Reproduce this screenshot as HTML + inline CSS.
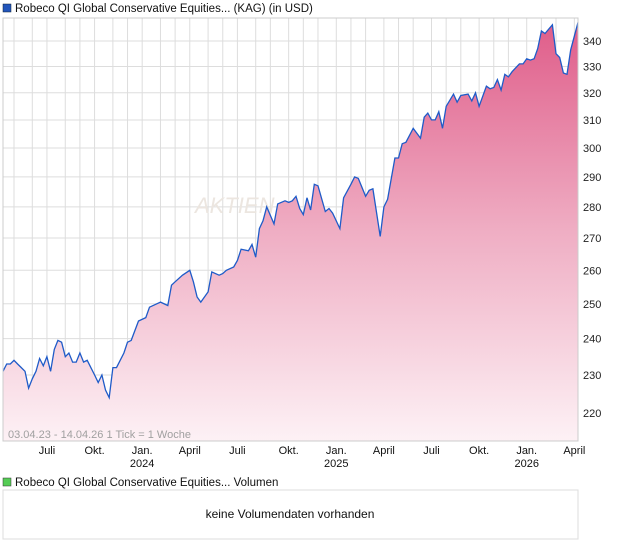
<!DOCTYPE html>
<html><head><meta charset="utf-8"><style>
body{margin:0;background:#fff;width:620px;height:546px;overflow:hidden;font-family:"Liberation Sans",sans-serif}
</style></head><body>
<svg id="c" width="620" height="546" xmlns="http://www.w3.org/2000/svg" style="font-family:'Liberation Sans',sans-serif">
<defs><linearGradient id="g" gradientUnits="userSpaceOnUse" x1="0" y1="18" x2="0" y2="441">
<stop offset="0" stop-color="#df5b88"/><stop offset="0.5" stop-color="#efadc3"/><stop offset="1" stop-color="#fdf1f5"/></linearGradient></defs>
<rect x="3" y="4" width="8" height="8" fill="#2255bb" stroke="#123" stroke-width="0.5"/>
<text x="15" y="12" font-size="11.5" fill="#111">Robeco QI Global Conservative Equities... (KAG) (in USD)</text>
<g id="grid"></g>
<text x="195" y="213" font-size="22" fill="#ece6e0" font-style="italic">AKTIEN</text>
<g id="series"></g>
<rect x="3" y="18" width="575" height="423" fill="none" stroke="#ccc"/>
<text x="8" y="438" font-size="11" fill="#a0a0a0">03.04.23 - 14.04.26   1 Tick = 1 Woche</text>
<g id="axes"></g>
<rect x="3" y="478" width="8" height="8" fill="#5c5" stroke="#333" stroke-width="0.5"/>
<text x="15" y="486" font-size="11.5" fill="#111">Robeco QI Global Conservative Equities... Volumen</text>
<rect x="3" y="490" width="575" height="49" fill="#fff" stroke="#ddd"/>
<text x="290" y="518" font-size="12" fill="#111" text-anchor="middle">keine Volumendaten vorhanden</text>
</svg>
<script>
const weeks=[0,1,2,3,4,5,6,7,8,9,10,11,12,13,14,15,16,17,18,19,20,21,22,23,25,26,27,28,29,30,31,33,34,35,37,39,40,42,43,45,46,47,49,51,52,53,54,56,57,59,60,61,63,64,65,67,68,69,70,71,72,74,75,77,78,79,80,81,82,83,84,85,86,88,89,90,92,93,95,96,97,99,100,101,103,104,105,107,108,109,110,112,114,115,116,117,118,119,120,121,123,124,125,127,128,129,130,132,133,134,135,136,137,138,139,141,142,143,144,145,146,147,148,150,151,152,153,154,155,157];
const prices=[231,233,233,234,233,232,231,226.5,229,231,234.5,232.5,235,231,237,239.5,239,235,236,233.5,233.5,236,233.5,234,230,228,230,226,224,232,232,236,239,239.5,245,246,249,250,250.5,249.5,255.5,256.5,258.5,260,256.5,252,250.5,253.5,259.5,258.5,259,260,261,263,266.5,266,268,264,273,275.5,280,274.5,281,282,281.5,282,283.5,279.5,277.5,283,279,287.5,287,278.5,279.5,278,273,283,287.5,290,289.5,283.5,285.5,286,270.5,280,282.5,296.5,296.5,301.5,302,307,303.5,311,312.5,310,310,313,307,315,319.5,316.5,319,319.5,317,320,315,322.5,321.5,322,325,321,327,326,328,331,331,333,332.5,333,337,344,343,346.5,335,333.5,327.5,327,336.5,347.5];
const yTicks=[220,230,240,250,260,270,280,290,300,310,320,330,340];
const xLabels=[["Juli",""],["Okt.",""],["Jan.","2024"],["April",""],["Juli",""],["Okt.",""],["Jan.","2025"],["April",""],["Juli",""],["Okt.",""],["Jan.","2026"],["April",""]];
const NS="http://www.w3.org/2000/svg";
const start=new Date(2023,3,10).getTime(),WEEK=7*864e5;
const L=3,R=578,T=18,B=441;
const xW=w=>L+w*(R-L)/157;
function firstMonday(y,m){const d=new Date(y,m,1);while(d.getDay()!==1)d.setDate(d.getDate()+1);return d;}
const xD=d=>xW(Math.round((d.getTime()-start)/WEEK));
const yP=p=>41+(Math.log(340)-Math.log(p))*854.6;
function el(t,a,p){const e=document.createElementNS(NS,t);for(const k in a)e.setAttribute(k,a[k]);p.appendChild(e);return e;}
const grid=document.getElementById('grid'),axes=document.getElementById('axes'),ser=document.getElementById('series');
for(let m=4;m<=40;m++){const d=firstMonday(2023,m);const x=xD(d);if(x<=L||x>=R)continue;
 const ln=el('line',{x1:x,x2:x,y1:T,y2:B,stroke:'#ddd'},grid);
 
 }
yTicks.forEach(v=>{const y=yP(v);
 const ln=el('line',{x1:L,x2:R,y1:y,y2:y,stroke:'#ddd'},grid);
 
 
 const t=el('text',{x:583,y:y+4,'font-size':11,fill:'#222'},axes);t.textContent=v;
 
 });
xLabels.forEach((lb,i)=>{const d=firstMonday(2023,6+3*i);const x=xD(d);
 const t=el('text',{x:x,y:454,'font-size':11,fill:'#111','text-anchor':'middle'},axes);t.textContent=lb[0];
 
 
 if(lb[1]){const t2=el('text',{x:x,y:467,'font-size':11,fill:'#111','text-anchor':'middle'},axes);t2.textContent=lb[1];
 
 }});
let pts=weeks.map((w,i)=>xW(w).toFixed(1)+','+yP(prices[i]).toFixed(1));
const area=el('polygon',{points:pts.join(' ')+' '+xW(weeks[weeks.length-1])+','+B+' '+xW(weeks[0])+','+B,fill:'url(#g)'},ser);


const line=el('polyline',{points:pts.join(' '),fill:'none',stroke:'#1f5bc8','stroke-width':1.3},ser);


</script>
</body></html>
